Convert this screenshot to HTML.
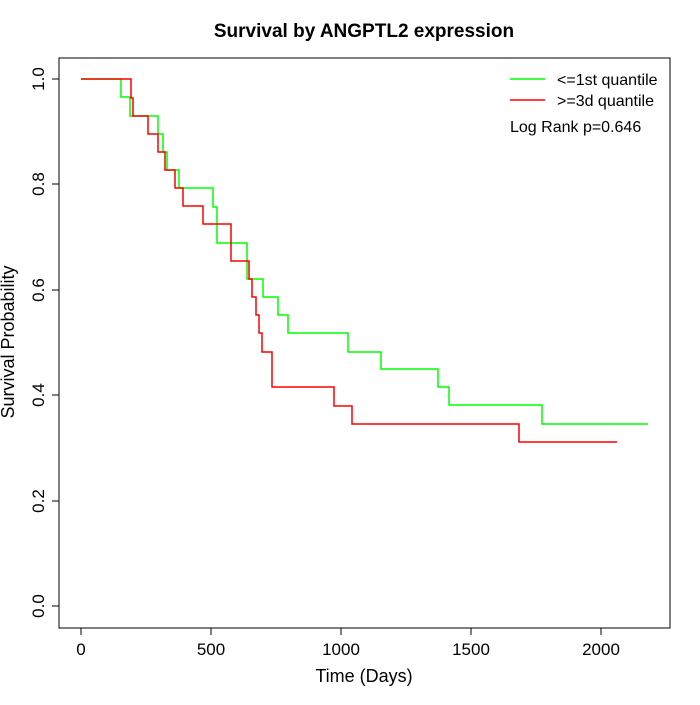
<!DOCTYPE html>
<html><head><style>body{margin:0;background:#fff}</style></head><body>
<svg width="700" height="700" xmlns="http://www.w3.org/2000/svg" font-family="Liberation Sans, sans-serif">
<rect width="700" height="700" fill="#fff"/>
<text x="364" y="37" text-anchor="middle" font-size="19" font-weight="bold">Survival by ANGPTL2 expression</text>
<rect x="59" y="58" width="611" height="570" fill="none" stroke="#000"/>
<g stroke="#000">
<line x1="81" y1="628" x2="601" y2="628"/>
<line x1="81" y1="628" x2="81" y2="635"/><line x1="211" y1="628" x2="211" y2="635"/><line x1="341" y1="628" x2="341" y2="635"/><line x1="471" y1="628" x2="471" y2="635"/><line x1="601" y1="628" x2="601" y2="635"/>
<line x1="59" y1="79" x2="59" y2="606"/>
<line x1="52" y1="79" x2="59" y2="79"/><line x1="52" y1="184" x2="59" y2="184"/><line x1="52" y1="290" x2="59" y2="290"/><line x1="52" y1="395" x2="59" y2="395"/><line x1="52" y1="501" x2="59" y2="501"/><line x1="52" y1="606" x2="59" y2="606"/>
</g>
<g font-size="17" text-anchor="middle">
<text x="81" y="655">0</text><text x="211" y="655">500</text><text x="341" y="655">1000</text><text x="471" y="655">1500</text><text x="601" y="655">2000</text>
<text x="364" y="682" font-size="18">Time (Days)</text>
</g>
<g font-size="17" text-anchor="middle">
<text transform="translate(44,79) rotate(-90)">1.0</text>
<text transform="translate(44,184) rotate(-90)">0.8</text>
<text transform="translate(44,290) rotate(-90)">0.6</text>
<text transform="translate(44,395) rotate(-90)">0.4</text>
<text transform="translate(44,501) rotate(-90)">0.2</text>
<text transform="translate(44,606) rotate(-90)">0.0</text>
<text transform="translate(14,342) rotate(-90)" font-size="18">Survival Probability</text>
</g>
<path fill="none" stroke="#0f0" stroke-width="1.5" d="M81,79H121V97H130V116H158V134H163V152H167V170H179V188H213V207H217V243H247V279H263V297H278V315H288V333H348V352H381V369H438V387H449V405H542V424H648"/>
<path fill="none" stroke="#f00" stroke-width="1.5" d="M81,79H131V98H133V116H148V134H158V152H165V170H175V188H183V206H203V224H231V261H249V279H252V297H256V315H259V333H262V352H272V387H334V406H352V424H519V442H617"/>
<line x1="510" y1="79" x2="545" y2="79" stroke="#0f0" stroke-width="1.5"/>
<line x1="510" y1="100" x2="545" y2="100" stroke="#f00" stroke-width="1.5"/>
<g font-size="16"><text x="557" y="85">&lt;=1st quantile</text><text x="557" y="106">&gt;=3d quantile</text><text x="510" y="132">Log Rank p=0.646</text></g>
</svg>
</body></html>
